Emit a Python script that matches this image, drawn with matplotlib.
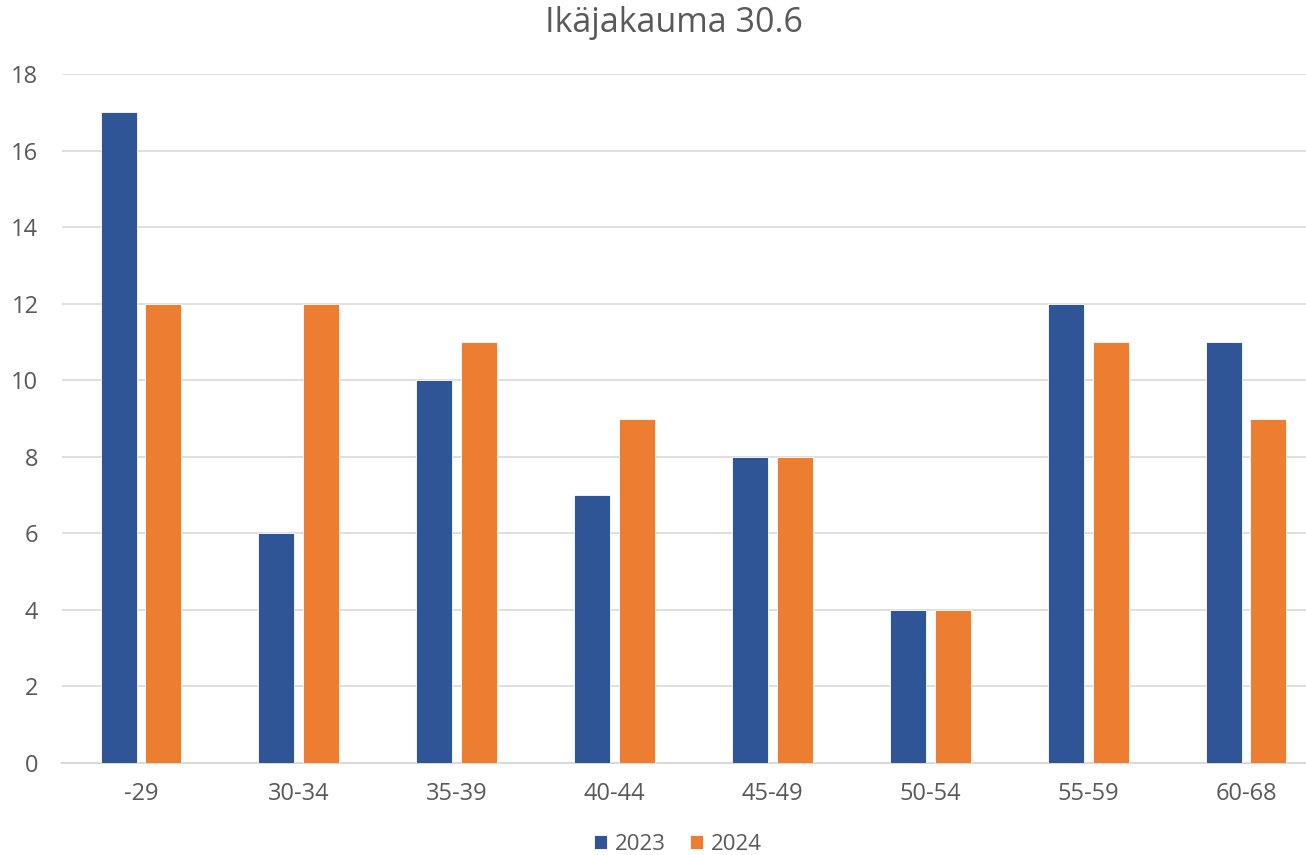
import matplotlib.pyplot as plt
import numpy as np

plt.rcParams['font.family'] = ['Open Sans', 'DejaVu Sans']

categories = ["-29", "30-34", "35-39", "40-44", "45-49", "50-54", "55-59", "60-68"]
vals_2023 = [17, 6, 10, 7, 8, 4, 12, 11]
vals_2024 = [12, 12, 11, 9, 8, 4, 11, 9]
yticks = [0, 2, 4, 6, 8, 10, 12, 14, 16, 18]

BLUE = "#2F5597"
ORANGE = "#ED7D31"
GREY = "#595959"

fig = plt.figure(figsize=(13.06, 8.55), dpi=100)
ax = fig.add_axes([62 / 1306, 1 - 763 / 855, 1244 / 1306, (763 - 74) / 855])

x = np.arange(len(categories))
w = 0.228
off = 0.142
ax.bar(x - off, vals_2023, width=w, color=BLUE, edgecolor="white", linewidth=0.6, label="2023", zorder=3)
ax.bar(x + off, vals_2024, width=w, color=ORANGE, edgecolor="white", linewidth=0.6, label="2024", zorder=3)

# plot area is wider than the picture, the right edge is cut off
ax.set_xlim(-0.5, 7.38)
ax.set_ylim(0, 18)
ax.set_yticks(yticks)
ax.set_xticks(x)
ax.set_xticklabels(categories)
ax.tick_params(axis="both", length=0, labelsize=17, colors=GREY)
ax.tick_params(axis="y", pad=17)
ax.tick_params(axis="x", pad=14)

ax.grid(axis="y", color="#D9D9D9", linewidth=1.2, zorder=0)
for s in ["top", "right", "left"]:
    ax.spines[s].set_visible(False)
ax.spines["bottom"].set_color("#D9D9D9")
ax.spines["bottom"].set_linewidth(1.5)

fig.text(674 / 1306, 1 - 23 / 855, "Ikäjakauma 30.6", ha="center", va="center", fontsize=24.5, color=GREY)

fig.legend(loc="center", bbox_to_anchor=(678 / 1306, 1 - 844 / 855), ncol=2, frameon=False,
           fontsize=16, handlelength=0.6, handleheight=0.6, handletextpad=0.35,
           columnspacing=1.1, labelcolor=GREY)

fig.savefig("out.png", dpi=100)
